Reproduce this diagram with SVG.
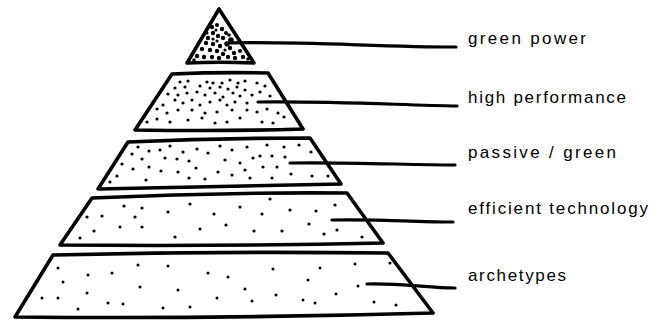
<svg xmlns="http://www.w3.org/2000/svg" width="656" height="320" viewBox="0 0 656 320">
<style>
.tier{fill:#fff;stroke:#000;stroke-width:3.6;stroke-linejoin:round;stroke-linecap:round}
.lead{fill:none;stroke:#000;stroke-width:3.2;stroke-linecap:round}
.d circle{fill:#000}
.lbl{font-family:"Liberation Sans","DejaVu Sans",sans-serif;font-size:17px;fill:#000}
</style>
<rect width="656" height="320" fill="#fff"/>
<g id="tier-green-power">
<path class="tier" d="M219,9 L187,63 Q220,61.5 254,63 Z"/>
<g class="d">
<circle cx="212" cy="27" r="2.2"/><circle cx="217" cy="25" r="2"/><circle cx="222" cy="29" r="2.2"/><circle cx="226" cy="33" r="2"/><circle cx="216" cy="30" r="1.6"/>
<circle cx="213" cy="33" r="2.2"/><circle cx="208" cy="38" r="2.2"/><circle cx="218" cy="36" r="2.2"/><circle cx="223" cy="38" r="2.2"/><circle cx="213" cy="39" r="1.6"/>
<circle cx="206" cy="43" r="2.2"/><circle cx="213" cy="44" r="2.2"/><circle cx="220" cy="46" r="2.2"/><circle cx="230" cy="48" r="2.2"/><circle cx="225" cy="50" r="1.6"/><circle cx="217" cy="41" r="1.6"/>
<circle cx="202" cy="49" r="2.2"/><circle cx="210" cy="50" r="2.2"/><circle cx="217" cy="51" r="2.2"/><circle cx="223" cy="54" r="2.2"/><circle cx="234" cy="53" r="2.2"/><circle cx="240" cy="51" r="2"/>
<circle cx="197" cy="56" r="2.2"/><circle cx="204" cy="57" r="2.2"/><circle cx="212" cy="57" r="2.2"/><circle cx="219" cy="58" r="2.2"/><circle cx="228" cy="57" r="2.2"/><circle cx="235" cy="58" r="2.2"/><circle cx="243" cy="57" r="2.2"/><circle cx="248" cy="59" r="1.8"/>
<circle cx="194" cy="60" r="1.8"/><circle cx="227" cy="44" r="2.6"/><circle cx="231" cy="40" r="2.8"/><circle cx="207" cy="33" r="1.6"/><circle cx="229" cy="35" r="1.8"/>
</g>
<text class="lbl" x="468" y="44" textLength="118" lengthAdjust="spacing">green power</text>
</g>
<g id="tier-high-performance">
<path class="tier" d="M172,74 Q220,72 268,73 L303,129 Q220,131.5 135,130 Z"/>
<g class="d">
<circle cx="180" cy="82" r="1.6"/><circle cx="188" cy="81" r="1.6"/><circle cx="207" cy="82" r="1.6"/><circle cx="213" cy="83" r="1.6"/><circle cx="222" cy="83" r="1.6"/><circle cx="230" cy="80" r="1.6"/><circle cx="238" cy="83" r="1.6"/><circle cx="245" cy="81" r="1.6"/><circle cx="257" cy="83" r="1.6"/>
<circle cx="175" cy="88" r="1.6"/><circle cx="185" cy="87" r="1.6"/><circle cx="200" cy="86" r="1.6"/><circle cx="210" cy="88" r="1.6"/><circle cx="220" cy="87" r="1.6"/><circle cx="228" cy="89" r="1.6"/><circle cx="237" cy="87" r="1.6"/><circle cx="245" cy="90" r="1.6"/><circle cx="260" cy="92" r="1.6"/><circle cx="265" cy="86" r="1.6"/>
<circle cx="168" cy="94" r="1.6"/><circle cx="178" cy="95" r="1.6"/><circle cx="187" cy="93" r="1.6"/><circle cx="197" cy="92" r="1.6"/><circle cx="205" cy="95" r="1.6"/><circle cx="215" cy="93" r="1.6"/><circle cx="223" cy="97" r="1.6"/><circle cx="233" cy="93" r="1.6"/><circle cx="240" cy="96" r="1.6"/><circle cx="252" cy="95" r="1.6"/><circle cx="270" cy="96" r="1.6"/>
<circle cx="163" cy="105" r="1.6"/><circle cx="175" cy="100" r="1.6"/><circle cx="183" cy="103" r="1.6"/><circle cx="192" cy="100" r="1.6"/><circle cx="200" cy="105" r="1.6"/><circle cx="210" cy="102" r="1.6"/><circle cx="220" cy="100" r="1.6"/><circle cx="227" cy="105" r="1.6"/><circle cx="235" cy="102" r="1.6"/><circle cx="247" cy="103" r="1.6"/>
<circle cx="157" cy="109" r="1.6"/><circle cx="167" cy="113" r="1.6"/><circle cx="178" cy="110" r="1.6"/><circle cx="192" cy="110" r="1.6"/><circle cx="205" cy="113" r="1.6"/><circle cx="217" cy="112" r="1.6"/><circle cx="232" cy="110" r="1.6"/><circle cx="247" cy="110" r="1.6"/><circle cx="257" cy="112" r="1.6"/><circle cx="267" cy="109" r="1.6"/><circle cx="278" cy="113" r="1.6"/><circle cx="284" cy="117" r="1.6"/>
<circle cx="157" cy="119" r="1.6"/><circle cx="170" cy="122" r="1.6"/><circle cx="188" cy="120" r="1.6"/><circle cx="202" cy="118" r="1.6"/><circle cx="215" cy="123" r="1.6"/><circle cx="227" cy="122" r="1.6"/><circle cx="240" cy="118" r="1.6"/><circle cx="262" cy="122" r="1.6"/><circle cx="273" cy="123" r="1.6"/><circle cx="147" cy="122" r="1.6"/>
</g>
<text class="lbl" x="468" y="103" textLength="158" lengthAdjust="spacing">high performance</text>
</g>
<g id="tier-passive-green">
<path class="tier" d="M128,142 Q220,138 310,138 L341,184 Q220,187 98,189 Z"/>
<g class="d">
<circle cx="138" cy="147" r="1.6"/><circle cx="149" cy="151" r="1.6"/><circle cx="170" cy="146" r="1.6"/><circle cx="132" cy="154" r="1.6"/><circle cx="142" cy="159" r="1.6"/><circle cx="165" cy="158" r="1.6"/><circle cx="177" cy="159" r="1.6"/><circle cx="183" cy="152" r="1.6"/><circle cx="189" cy="161" r="1.6"/><circle cx="197" cy="149" r="1.6"/><circle cx="208" cy="153" r="1.6"/>
<circle cx="122" cy="164" r="1.6"/><circle cx="133" cy="169" r="1.6"/><circle cx="149" cy="167" r="1.6"/><circle cx="161" cy="171" r="1.6"/><circle cx="178" cy="172" r="1.6"/><circle cx="196" cy="168" r="1.6"/><circle cx="117" cy="176" r="1.6"/><circle cx="146" cy="180" r="1.6"/><circle cx="189" cy="178" r="1.6"/><circle cx="205" cy="179" r="1.6"/>
<circle cx="267" cy="145" r="1.6"/><circle cx="284" cy="147" r="1.6"/><circle cx="299" cy="145" r="1.6"/><circle cx="260" cy="156" r="1.6"/><circle cx="272" cy="156" r="1.6"/><circle cx="285" cy="157" r="1.6"/><circle cx="263" cy="167" r="1.6"/><circle cx="277" cy="167" r="1.6"/><circle cx="291" cy="174" r="1.6"/><circle cx="312" cy="176" r="1.6"/><circle cx="328" cy="176" r="1.6"/><circle cx="272" cy="178" r="1.6"/><circle cx="311" cy="152" r="1.6"/>
<circle cx="220" cy="146" r="1.6"/><circle cx="232" cy="150" r="1.6"/><circle cx="247" cy="147" r="1.6"/><circle cx="225" cy="160" r="1.6"/><circle cx="240" cy="163" r="1.6"/><circle cx="253" cy="158" r="1.6"/><circle cx="218" cy="172" r="1.6"/><circle cx="232" cy="175" r="1.6"/><circle cx="250" cy="178" r="1.6"/><circle cx="245" cy="170" r="1.6"/><circle cx="160" cy="150" r="1.6"/><circle cx="110" cy="182" r="1.6"/>
</g>
<text class="lbl" x="468" y="158" textLength="148" lengthAdjust="spacing">passive / green</text>
</g>
<g id="tier-efficient-technology">
<path class="tier" d="M92,198 Q220,192 347,193 L383,243 Q220,246.5 60,245 Z"/>
<g class="d">
<circle cx="124" cy="206" r="1.6"/><circle cx="142" cy="208" r="1.6"/><circle cx="87" cy="217" r="1.6"/><circle cx="102" cy="216" r="1.6"/><circle cx="135" cy="217" r="1.6"/><circle cx="168" cy="212" r="1.6"/><circle cx="94" cy="231" r="1.6"/><circle cx="120" cy="227" r="1.6"/><circle cx="142" cy="227" r="1.6"/>
<circle cx="290" cy="210" r="1.6"/><circle cx="316" cy="211" r="1.6"/><circle cx="335" cy="205" r="1.6"/><circle cx="309" cy="224" r="1.6"/><circle cx="282" cy="231" r="1.6"/><circle cx="324" cy="234" r="1.6"/><circle cx="337" cy="230" r="1.6"/><circle cx="362" cy="237" r="1.6"/>
<circle cx="190" cy="204" r="1.6"/><circle cx="214" cy="214" r="1.6"/><circle cx="240" cy="207" r="1.6"/><circle cx="262" cy="214" r="1.6"/><circle cx="200" cy="229" r="1.6"/><circle cx="226" cy="225" r="1.6"/><circle cx="254" cy="231" r="1.6"/><circle cx="175" cy="237" r="1.6"/><circle cx="80" cy="238" r="1.6"/><circle cx="270" cy="199" r="1.6"/>
</g>
<text class="lbl" x="468" y="214" textLength="180" lengthAdjust="spacing">efficient technology</text>
</g>
<g id="tier-archetypes">
<path class="tier" d="M53,255 Q220,251 388,253 L433,313 Q220,319 15,317 Z"/>
<g class="d">
<circle cx="58" cy="268" r="1.5"/><circle cx="88" cy="275" r="1.5"/><circle cx="112" cy="273" r="1.5"/><circle cx="138" cy="265" r="1.5"/><circle cx="168" cy="266" r="1.5"/><circle cx="208" cy="273" r="1.5"/><circle cx="228" cy="277" r="1.5"/><circle cx="273" cy="269" r="1.5"/><circle cx="320" cy="268" r="1.5"/><circle cx="355" cy="264" r="1.5"/><circle cx="390" cy="263" r="1.5"/>
<circle cx="63" cy="282" r="1.5"/><circle cx="87" cy="293" r="1.5"/><circle cx="140" cy="287" r="1.5"/><circle cx="178" cy="290" r="1.5"/><circle cx="245" cy="289" r="1.5"/><circle cx="308" cy="280" r="1.5"/><circle cx="358" cy="286" r="1.5"/>
<circle cx="42" cy="298" r="1.5"/><circle cx="58" cy="298" r="1.5"/><circle cx="108" cy="303" r="1.5"/><circle cx="123" cy="304" r="1.5"/><circle cx="217" cy="298" r="1.5"/><circle cx="252" cy="301" r="1.5"/><circle cx="276" cy="295" r="1.5"/><circle cx="303" cy="300" r="1.5"/><circle cx="315" cy="303" r="1.5"/><circle cx="336" cy="294" r="1.5"/>
<circle cx="78" cy="309" r="1.5"/><circle cx="163" cy="308" r="1.5"/><circle cx="190" cy="307" r="1.5"/><circle cx="374" cy="302" r="1.5"/><circle cx="396" cy="305" r="1.5"/>
</g>
<text class="lbl" x="468" y="281" textLength="98" lengthAdjust="spacing">archetypes</text>
</g>
<g id="connectors">
<path class="lead" d="M226,43 C300,41 380,47 456,47"/>
<path class="lead" d="M258,102 C330,101 400,105 457,106"/>
<path class="lead" d="M290,163 C350,162 410,165 455,165"/>
<path class="lead" d="M332,220 C380,219 420,222 453,222"/>
<path class="lead" d="M367,284 C400,283 430,288 455,288"/>
</g>
</svg>
